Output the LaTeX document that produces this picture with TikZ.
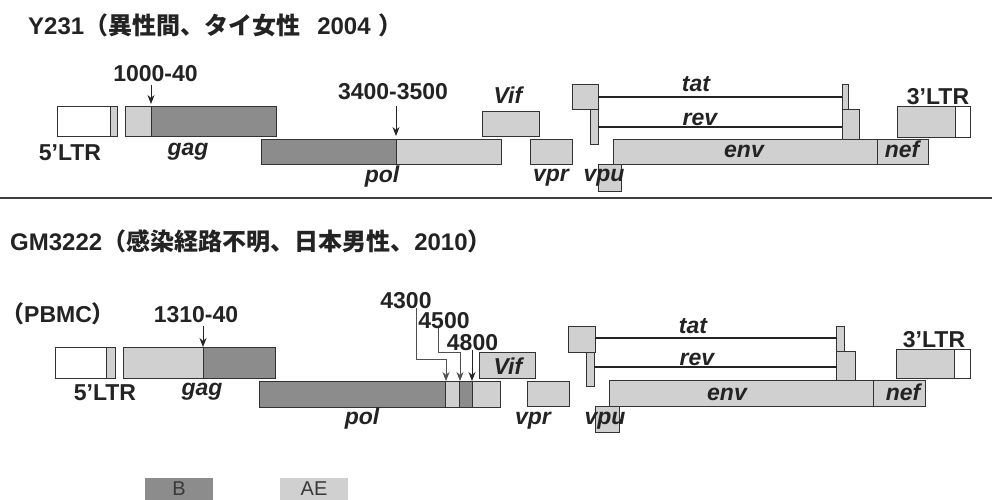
\documentclass[tikz,border=0pt]{standalone}
\usepackage{fontspec}
\setmainfont{Liberation Sans}
\newfontfamily\cjk{Noto Sans CJK JP}
\usetikzlibrary{arrows.meta}
\definecolor{bgray}{RGB}{140,140,140}
\definecolor{aegray}{RGB}{208,208,208}
\definecolor{edge}{RGB}{50,50,50}
\definecolor{ink}{RGB}{35,35,35}
\newcommand\bx[6]{\node[#1,anchor=north west,minimum width={(#5)-(#3)},minimum height={(#6)-(#4)}] (#2) at (#3,#4) {};}
\begin{document}
\begin{tikzpicture}[x=1pt,y=-1pt,
  box/.style={draw=edge,line width=1pt,inner sep=0pt,outer sep=0pt},
  bB/.style={box,fill=bgray},
  bA/.style={box,fill=aegray},
  bW/.style={box,fill=white},
  lab/.style={inner sep=0pt,anchor=base,font=\fontsize{23}{23}\selectfont\bfseries,text=ink},
  gene/.style={inner sep=0pt,anchor=base,font=\fontsize{23}{23}\selectfont\bfseries\itshape,text=ink},
  ttl/.style={inner sep=0pt,anchor=base west,font=\fontsize{24}{24}\selectfont\bfseries,text=ink},
  arr/.style={draw=ink,line width=1pt,-{Stealth[length=9pt,width=7pt]}},
  thinarr/.style={draw=ink!80,line width=0.8pt,-{Stealth[length=9pt,width=7pt]}},
  exline/.style={draw=ink,line width=1.8pt},
  legbox/.style={inner sep=0pt,outer sep=0pt,minimum width=68pt,minimum height=22pt,font=\fontsize{20}{20}\selectfont,text=ink!90},
]
\useasboundingbox (0,0) rectangle (992,500);

% ---------------- Top panel ----------------
\node[ttl] (t1) at (28,35) {Y231{\cjk （異性間、タイ女性}\hspace{17pt}2004\hspace{8pt}{\cjk ）}};

\bx{bW}{ltrA}{57}{107}{110}{136}
\bx{bA}{ltrAb}{110}{107}{117}{136}
\bx{bA}{gagAa}{125}{107}{151}{136}
\bx{bB}{gagAb}{151}{107}{276}{136}
\bx{bB}{polAa}{261}{139}{396}{164}
\bx{bA}{polAb}{396}{139}{501.7}{164}
\bx{bA}{vifA}{482.7}{111.7}{539}{136.7}
\bx{bA}{vprA}{530.7}{139}{572.3}{164}
\bx{bA}{tatA1}{572}{85}{598}{110}
\bx{bA}{revA1}{590}{110}{598}{144}
\bx{bA}{tatA2}{842}{85}{848}{110}
\bx{bA}{revA2}{842}{110}{859}{140}
\bx{bA}{envA}{613}{139}{877}{164}
\bx{bA}{nefA}{877}{139}{928}{164}
\bx{bA}{vpuA}{598}{164}{621}{191}
\bx{bA}{ltrBa}{897}{107}{955}{137}
\bx{bW}{ltrBb}{955}{107}{970}{137}

\draw[exline] (tatA1.east |- 0,97) -- (tatA2.west |- 0,97);
\draw[exline] (revA1.east |- 0,127) -- (revA2.west |- 0,127);

\node[lab] (p1000) at (155.5,82) {1000-40};
\coordinate (a1000) at (151,104);
\draw[arr] (151,85) -- (a1000);
\node[lab] (p3400) at (393,100) {3400-3500};
\coordinate (a3400) at (396,136);
\draw[arr] (396,106) -- (a3400);

\node[lab] (lLTR5a) at (70,160) {5’LTR};
\node[gene] (lgagA) at (188,155) {gag};
\node[gene] (lpolA) at (382,182) {pol};
\node[gene] (lvifA) at (508,103) {Vif};
\node[gene] (lvprA) at (551,181) {vpr};
\node[gene] (lvpuA) at (604,181) {vpu};
\node[gene] (ltatA) at (696,92) {tat};
\node[gene] (lrevA) at (700,125) {rev};
\node[gene] (lenvA) at (744,157) {env};
\node[gene] (lnefA) at (902,157) {nef};
\node[lab] (lLTR3a) at (938,105) {3’LTR};

% separator
\draw[line width=2.5pt,draw=black!75] (0,198) -- (992,198);

% ---------------- Bottom panel ----------------
\node[ttl] (t2) at (10,250) {GM3222{\cjk （感染経路不明、日本男性、}2010{\cjk ）}};
\node[lab,anchor=base west] (pbmc) at (1,322) {{\cjk （}PBMC{\cjk ）}};

\bx{bW}{ltrC}{55.7}{347.7}{106.7}{378.3}
\bx{bA}{ltrCb}{106.7}{347.7}{115}{378.3}
\bx{bA}{gagBa}{123.3}{347.7}{203.3}{378.3}
\bx{bB}{gagBb}{203.3}{347.7}{275}{378.3}
\bx{bB}{polBa}{259.3}{381.7}{445}{407.3}
\bx{bA}{polBb}{445}{381.7}{459.3}{407.3}
\bx{bB}{polBc}{459.3}{381.7}{472.7}{407.3}
\bx{bA}{polBd}{472.7}{381.7}{500.7}{407.3}
\bx{bA}{vifB}{479}{352.7}{535.7}{378}
\bx{bA}{vprB}{527.7}{381}{569}{406.7}
\bx{bA}{tatB1}{568}{326.7}{595}{352.3}
\bx{bA}{revB1}{586.7}{352.3}{594}{386}
\bx{bA}{tatB2}{836.7}{326.7}{844.3}{351.7}
\bx{bA}{revB2}{836.7}{351.7}{855}{381}
\bx{bA}{envB}{609.3}{380.7}{873.3}{406.7}
\bx{bA}{nefB}{873.3}{380.7}{925.7}{406.7}
\bx{bA}{vpuB}{595}{406.7}{619}{432.7}
\bx{bA}{ltrDa}{896.7}{349}{954.3}{378.3}
\bx{bW}{ltrDb}{954.3}{349}{970}{378.3}

\draw[exline] (tatB1.east |- 0,338.3) -- (tatB2.west |- 0,338.3);
\draw[exline] (revB1.east |- 0,366.7) -- (revB2.west |- 0,366.7);

\node[lab] (p1310) at (196,322) {1310-40};
\coordinate (a1310) at (203,347);
\draw[arr] (203,326) -- (a1310);

\node[lab] (p4300) at (406,308) {4300};
\node[lab] (p4500) at (444,328) {4500};
\node[lab] (p4800) at (472.5,350) {4800};
\coordinate (k4300) at (416,359);
\coordinate (a4300) at (446,381);
\coordinate (k4500) at (438,352);
\coordinate (a4500) at (460,381);
\coordinate (a4800) at (472,381);
\draw[thinarr] (p4300.south -| k4300) -- (k4300) -| (a4300);
\draw[thinarr] (p4500.south -| k4500) -- (k4500) -| (a4500);
\draw[arr] (p4800.south -| a4800) -- (a4800);

\node[lab] (lLTR5b) at (105,400) {5’LTR};
\node[gene] (lgagB) at (202,395) {gag};
\node[gene] (lpolB) at (362,424) {pol};
\node[gene] (lvifB) at (508,374) {Vif};
\node[gene] (lvprB) at (533,424) {vpr};
\node[gene] (lvpuB) at (605,424) {vpu};
\node[gene] (ltatB) at (693,333) {tat};
\node[gene] (lrevB) at (697,365) {rev};
\node[gene] (lenvB) at (727,400) {env};
\node[gene] (lnefB) at (903,400) {nef};
\node[lab] (lLTR3b) at (934,347) {3’LTR};

% ---------------- Legend ----------------
\node[legbox,fill=bgray] (legB) at (179,489) {B};
\node[legbox,fill=aegray] (legAE) at (314,489) {AE};
\end{tikzpicture}
\end{document}
